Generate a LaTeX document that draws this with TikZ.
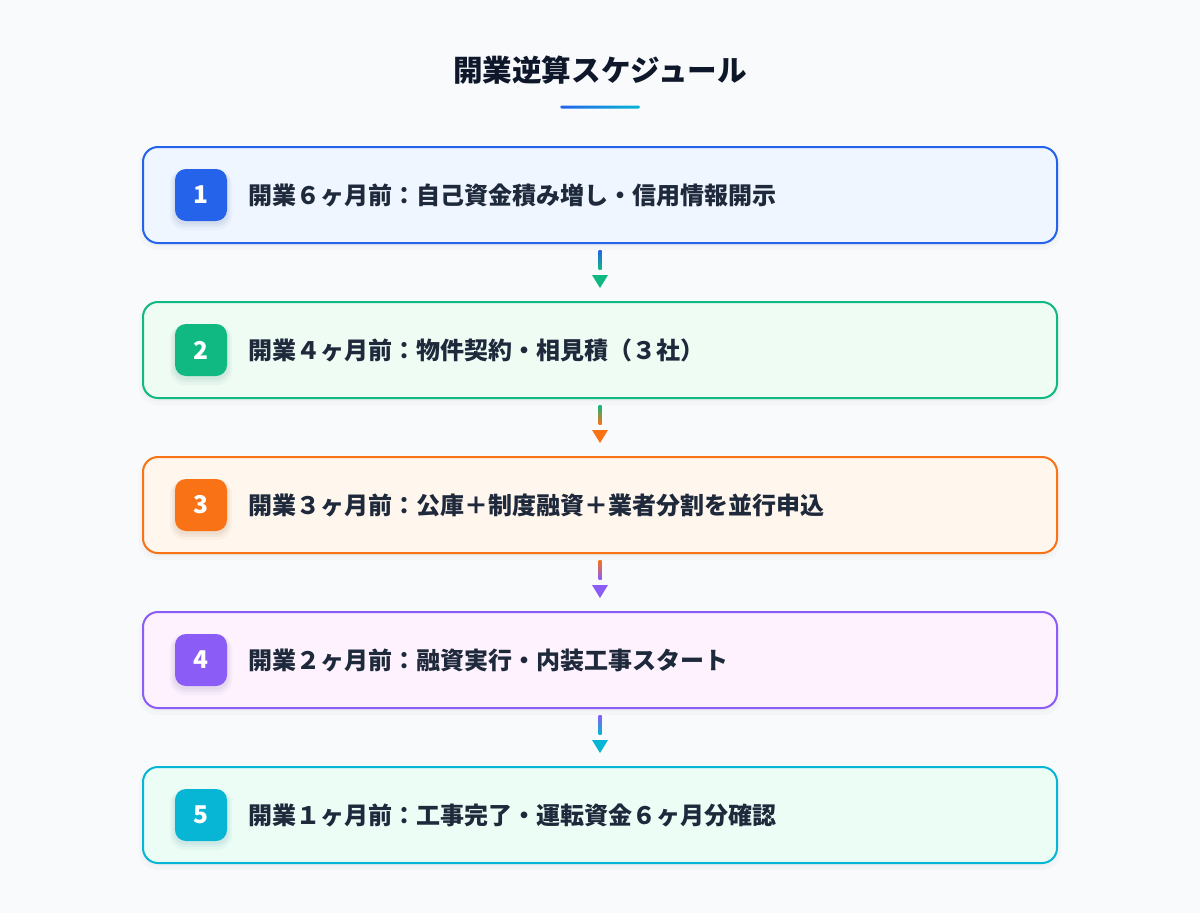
\documentclass[tikz,border=0pt]{standalone}
\usepackage{fontspec}
\setmainfont{Noto Sans CJK JP}
\usetikzlibrary{calc}
\definecolor{bg}{HTML}{F8FAFC}
\definecolor{ink}{HTML}{1E293B}
\definecolor{title}{HTML}{0F172A}
\definecolor{cA}{HTML}{2563EB}\definecolor{fA}{HTML}{EFF6FF}
\definecolor{cB}{HTML}{10B981}\definecolor{fB}{HTML}{EEFCF4}
\definecolor{cC}{HTML}{F97316}\definecolor{fC}{HTML}{FFF7ED}
\definecolor{cD}{HTML}{8B5CF6}\definecolor{fD}{HTML}{FDF2FD}
\definecolor{cE}{HTML}{06B6D4}\definecolor{fE}{HTML}{ECFDF6}
\definecolor{cyanline}{HTML}{06B6D4}
\tikzset{
  card/.style 2 args={draw=#1, fill=#2, line width=2pt, rounded corners=15pt,
    minimum width=914pt, minimum height=96pt, inner sep=0pt},
  badge/.style={fill=#1, rounded corners=11pt, minimum size=52pt, inner sep=0pt,
    text=white, font=\fontsize{24.5}{24.5}\selectfont\bfseries},
  ghost/.style={minimum size=52pt, inner sep=0pt},
  label/.style={anchor=west, inner sep=0pt, text=ink, font=\fontsize{24}{24}\selectfont\bfseries},
}
\newcommand{\linkpair}[4]{%
  \shade[top color=#3, bottom color=#4]
    ($(#1.south)+(-1.5,6)$) rectangle ($(#1.south)+(1.5,25)$);
  \fill[#4] ($(#2.north)+(-8,-26)$) -- ($(#2.north)+(8,-26)$) -- ($(#2.north)+(0,-13)$) -- cycle;
}
\newcommand{\cardshadow}[1]{%
  \fill[black, opacity=0.02, rounded corners=19pt] ($(#1.north west)+(-4,0)$) rectangle ($(#1.south east)+(4,7)$);
  \fill[black, opacity=0.025, rounded corners=16pt] ($(#1.north west)+(-1,1)$) rectangle ($(#1.south east)+(1,3)$);
}
\newcommand{\badgeshadow}[2]{%
  \fill[#2!40!gray, opacity=0.05, rounded corners=16pt] ($(#1.north west)+(-5,0)$) rectangle ($(#1.south east)+(5,9)$);
  \fill[#2!40!gray, opacity=0.07, rounded corners=14pt] ($(#1.north west)+(-3,1)$) rectangle ($(#1.south east)+(3,6)$);
  \fill[#2!40!gray, opacity=0.08, rounded corners=12pt] ($(#1.north west)+(-1,2)$) rectangle ($(#1.south east)+(1,3.5)$);
}
\begin{document}
\begin{tikzpicture}[x=1pt,y=-1pt]
\useasboundingbox (0,0) rectangle (1200,913);
\fill[bg] (0,0) rectangle (1200,913);
\node[text=title, font=\fontsize{29.6}{30}\selectfont\bfseries, inner sep=0pt] (ttl) at (600,70) {開業逆算スケジュール};
\shade[left color=cA, right color=cyanline, rounded corners=1.5pt] (560,105.5) rectangle (640,108.5);

\path (600,195) coordinate (p1) (600,350) coordinate (p2) (600,505) coordinate (p3)
      (600,660) coordinate (p4) (600,815) coordinate (p5);
\foreach \i in {1,...,5}{\path (p\i) node[minimum width=914pt, minimum height=96pt, inner sep=0pt] (s\i) {};
  \cardshadow{s\i}}

\node[card={cA}{fA}] (b1) at (p1) {};
\node[card={cB}{fB}] (b2) at (p2) {};
\node[card={cC}{fC}] (b3) at (p3) {};
\node[card={cD}{fD}] (b4) at (p4) {};
\node[card={cE}{fE}] (b5) at (p5) {};

\path (201,195) node[ghost] (g1) {} (201,350) node[ghost] (g2) {}
      (201,505) node[ghost] (g3) {} (201,660) node[ghost] (g4) {}
      (201,815) node[ghost] (g5) {};
\badgeshadow{g1}{cA}\badgeshadow{g2}{cB}\badgeshadow{g3}{cC}\badgeshadow{g4}{cD}\badgeshadow{g5}{cE}

\node[badge=cA] (n1) at (g1) {1};
\node[badge=cB] (n2) at (g2) {2};
\node[badge=cC] (n3) at (g3) {3};
\node[badge=cD] (n4) at (g4) {4};
\node[badge=cE] (n5) at (g5) {5};

\node[label] (t1) at (248,195) {開業６ヶ月前：自己資金積み増し・信用情報開示};
\node[label] (t2) at (248,350) {開業４ヶ月前：物件契約・相見積（３社）};
\node[label] (t3) at (248,505) {開業３ヶ月前：公庫＋制度融資＋業者分割を並行申込};
\node[label] (t4) at (248,660) {開業２ヶ月前：融資実行・内装工事スタート};
\node[label] (t5) at (248,815) {開業１ヶ月前：工事完了・運転資金６ヶ月分確認};

\linkpair{b1}{b2}{cA}{cB}
\linkpair{b2}{b3}{cB}{cC}
\linkpair{b3}{b4}{cC}{cD}
\linkpair{b4}{b5}{cD}{cE}
\end{tikzpicture}
\end{document}
